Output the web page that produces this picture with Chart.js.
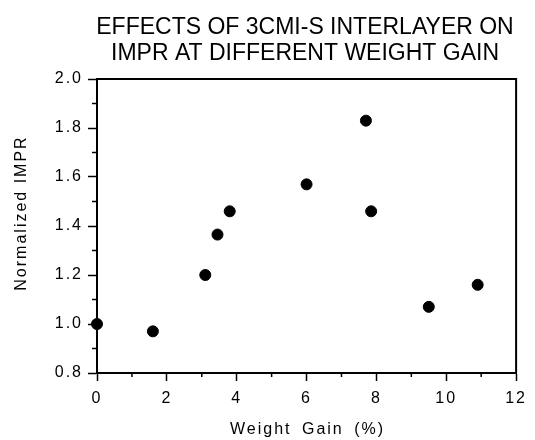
<!DOCTYPE html>
<html>
<head>
<meta charset="utf-8">
<script src="https://cdn.jsdelivr.net/npm/chart.js@4"></script>
<style>
  html, body { margin: 0; padding: 0; background: #fff; }
  #wrap { width: 535px; height: 440px; }
</style>
</head>
<body>
<div id="wrap"><canvas id="impr"></canvas></div>
<script>
// weight gain (%) and normalized IMPR for each sample
var weightGain = [0, 1.6, 3.1, 3.45, 3.8, 6.0, 7.7, 7.85, 9.5, 10.9];
var normImpr   = [1.0, 0.97, 1.2, 1.365, 1.46, 1.57, 1.83, 1.46, 1.07, 1.16];

var titleLines = ['EFFECTS OF 3CMI-S INTERLAYER ON', 'IMPR AT DIFFERENT WEIGHT GAIN'];
var xTitle = 'Weight Gain (%)';
var yTitle = 'Normalized IMPR';
var xMinorTicks = [1, 3, 5, 7, 9, 11];
var yMinorTicks = [0.9, 1.1, 1.3, 1.5, 1.7, 1.9];

var points = weightGain.map(function (x, i) { return { x: x, y: normImpr[i] }; });

var FONT = '"Liberation Sans", Arial, Helvetica, sans-serif';

// spaced-out lettering for the axes, like the old plotter output
var spacing = {
  id: 'spacing',
  beforeUpdate: function (chart) { chart.ctx.letterSpacing = '2px'; },
  beforeDraw: function (chart) { chart.ctx.letterSpacing = '2px'; }
};

// box frame, minor ticks, axis titles and the two-line heading
var decor = {
  id: 'decor',
  afterDraw: function (chart) {
    var ctx = chart.ctx, a = chart.chartArea;
    var xs = chart.scales.x, ys = chart.scales.y;
    ctx.save();
    ctx.strokeStyle = '#000';
    ctx.lineWidth = 2;
    ctx.beginPath();
    ctx.moveTo(a.left, a.top);
    ctx.lineTo(a.right, a.top);
    ctx.lineTo(a.right, a.bottom);
    ctx.stroke();

    ctx.lineWidth = 1.5;
    ctx.beginPath();
    xMinorTicks.forEach(function (v) {
      var px = xs.getPixelForValue(v);
      ctx.moveTo(px, a.bottom);
      ctx.lineTo(px, a.bottom + 4);
    });
    yMinorTicks.forEach(function (v) {
      var py = ys.getPixelForValue(v);
      ctx.moveTo(a.left - 5, py);
      ctx.lineTo(a.left, py);
    });
    ctx.stroke();

    ctx.fillStyle = '#000';
    ctx.letterSpacing = '2px';
    ctx.font = '16px ' + FONT;
    ctx.textAlign = 'center';
    ctx.textBaseline = 'alphabetic';
    ctx.wordSpacing = '4px';
    ctx.fillText(xTitle, (a.left + a.right) / 2 + 1, 433.5);
    ctx.wordSpacing = '0px';

    ctx.save();
    ctx.translate(25.5, 213);
    ctx.rotate(-Math.PI / 2);
    ctx.fillText(yTitle, 0, 0);
    ctx.restore();

    ctx.letterSpacing = '0px';
    ctx.font = '23px ' + FONT;
    ctx.fillText(titleLines[0], 305, 33.5);
    ctx.fillText(titleLines[1], 305, 60);
    ctx.restore();
  }
};

var ctx = document.getElementById('impr');
var imprChart = new Chart(ctx, {
  type: 'scatter',
  data: {
    datasets: [{
      data: points,
      backgroundColor: '#000',
      borderColor: '#000',
      pointRadius: 5.5,
      pointHoverRadius: 5.5,
      clip: false
    }]
  },
  options: {
    responsive: true,
    maintainAspectRatio: false,
    animation: false,
    layout: { padding: { top: 79, right: 14, left: 0, bottom: 0 } },
    scales: {
      x: {
        type: 'linear',
        min: 0,
        max: 12,
        afterFit: function (s) { s.height = 67; },
        border: { display: true, color: '#000', width: 2 },
        grid: { drawOnChartArea: false, tickLength: 8, tickColor: '#000', tickWidth: 1.5 },
        ticks: {
          stepSize: 2,
          color: '#000',
          padding: 8,
          maxRotation: 0,
          font: { family: FONT, size: 16 }
        }
      },
      y: {
        min: 0.8,
        max: 2.0,
        afterFit: function (s) { s.width = 97; },
        border: { display: true, color: '#000', width: 2 },
        grid: { drawOnChartArea: false, tickLength: 9, tickColor: '#000', tickWidth: 1.5 },
        ticks: {
          stepSize: 0.2,
          color: '#000',
          padding: 5,
          font: { family: FONT, size: 16 },
          callback: function (v) { return v.toFixed(1); }
        }
      }
    },
    plugins: {
      legend: { display: false },
      tooltip: { enabled: false }
    }
  },
  plugins: [spacing, decor]
});
</script>
</body>
</html>
